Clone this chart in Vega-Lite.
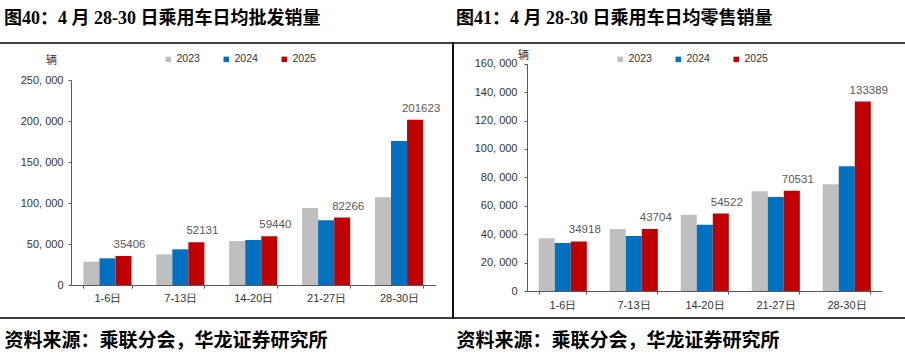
{
  "$schema": "https://vega.github.io/schema/vega-lite/v6.json",
  "autosize": {"type": "pad"},
  "padding": {"left": -3, "top": 9, "right": 0, "bottom": 0},
  "background": "white",
  "spacing": 0,
  "bounds": "flush",
  "config": {
    "view": {"stroke": "#000000", "strokeWidth": 1.5},
    "font": "Liberation Sans",
    "axis": {"labelFont": "Liberation Sans", "labelColor": "#333333", "domainColor": "#595959", "tickColor": "#595959", "grid": false, "tickSize": 3, "titleFont": "Noto Sans CJK SC"},
    "title": {"font": "Liberation Serif, Noto Sans CJK SC", "fontWeight": "bold", "fontSize": 18, "color": "#000000", "anchor": "start", "frame": "group"}
  },
  "datasets": {
    "wholesale": [
      {"period": "1-6日", "year": "2023", "value": 28400},
      {"period": "1-6日", "year": "2024", "value": 32500},
      {"period": "1-6日", "year": "2025", "value": 35406},
      {"period": "7-13日", "year": "2023", "value": 37400},
      {"period": "7-13日", "year": "2024", "value": 43500},
      {"period": "7-13日", "year": "2025", "value": 52131},
      {"period": "14-20日", "year": "2023", "value": 53600},
      {"period": "14-20日", "year": "2024", "value": 54900},
      {"period": "14-20日", "year": "2025", "value": 59440},
      {"period": "21-27日", "year": "2023", "value": 93900},
      {"period": "21-27日", "year": "2024", "value": 78900},
      {"period": "21-27日", "year": "2025", "value": 82266},
      {"period": "28-30日", "year": "2023", "value": 106900},
      {"period": "28-30日", "year": "2024", "value": 175600},
      {"period": "28-30日", "year": "2025", "value": 201623}
    ],
    "retail": [
      {"period": "1-6日", "year": "2023", "value": 37100},
      {"period": "1-6日", "year": "2024", "value": 33800},
      {"period": "1-6日", "year": "2025", "value": 34918},
      {"period": "7-13日", "year": "2023", "value": 43600},
      {"period": "7-13日", "year": "2024", "value": 38700},
      {"period": "7-13日", "year": "2025", "value": 43704},
      {"period": "14-20日", "year": "2023", "value": 53700},
      {"period": "14-20日", "year": "2024", "value": 46700},
      {"period": "14-20日", "year": "2025", "value": 54522},
      {"period": "21-27日", "year": "2023", "value": 70200},
      {"period": "21-27日", "year": "2024", "value": 66200},
      {"period": "21-27日", "year": "2025", "value": 70531},
      {"period": "28-30日", "year": "2023", "value": 75100},
      {"period": "28-30日", "year": "2024", "value": 87800},
      {"period": "28-30日", "year": "2025", "value": 133389}
    ]
  },
  "hconcat": [
    {
      "width": 455,
      "height": 275,
      "title": {"text": "图40：4 月 28-30 日乘用车日均批发销量", "offset": 15, "dx": 6},
      "data": {"name": "wholesale"},
      "encoding": {
        "x": {
          "field": "period", "type": "nominal",
          "sort": ["1-6日", "7-13日", "14-20日", "21-27日", "28-30日"],
          "scale": {"range": [73, 437.5], "paddingInner": 0.34, "paddingOuter": 0.17},
          "axis": {
            "orient": "bottom", "offset": -33, "labelAngle": 0, "labelFontSize": 11, "labelPadding": 4,
            "tickBand": "extent",
            "title": "资料来源：乘联分会，华龙证券研究所",
            "titleX": 6, "titleY": 55.5, "titleAlign": "left", "titleBaseline": "middle",
            "titleFontSize": 19, "titleFontWeight": "bold", "titleColor": "#000000"
          }
        },
        "xOffset": {"field": "year", "type": "nominal", "sort": ["2023", "2024", "2025"]},
        "y": {
          "field": "value", "type": "quantitative",
          "scale": {"domain": [0, 250000], "range": [242, 37], "nice": false},
          "axis": {
            "orient": "left", "offset": -73,
            "values": [0, 50000, 100000, 150000, 200000, 250000],
            "labelExpr": "replace(format(datum.value, ','), ',', ', ')",
            "labelFontSize": 11, "labelPadding": 5,
            "title": "辆", "titleAngle": 0, "titleX": -20, "titleY": 17,
            "titleAlign": "center", "titleBaseline": "middle",
            "titleFontSize": 11, "titleFontWeight": "normal", "titleColor": "#333333"
          }
        }
      },
      "layer": [
        {
          "mark": {"type": "bar"},
          "encoding": {
            "color": {
              "field": "year", "type": "nominal",
              "scale": {"domain": ["2023", "2024", "2025"], "range": ["#BFBFBF", "#0070C0", "#C00000"]},
              "legend": {
                "orient": "none", "legendX": 165, "legendY": 11, "direction": "horizontal",
                "title": null, "symbolType": "square", "symbolSize": 30, "symbolStrokeWidth": 0,
                "labelFontSize": 10.5, "labelColor": "#333333", "labelOffset": 3, "columnPadding": 21
              }
            }
          }
        },
        {
          "transform": [{"filter": "datum.year == '2025'"}],
          "mark": {"type": "text", "dy": -8, "dx": 6, "baseline": "alphabetic", "fontSize": 11.5, "color": "#595959"},
          "encoding": {"text": {"field": "value", "type": "quantitative", "format": "d"}}
        }
      ]
    },
    {
      "width": 458,
      "height": 275,
      "title": {"text": "图41：4 月 28-30 日乘用车日均零售销量", "offset": 15, "dx": 3},
      "data": {"name": "retail"},
      "encoding": {
        "x": {
          "field": "period", "type": "nominal",
          "sort": ["1-6日", "7-13日", "14-20日", "21-27日", "28-30日"],
          "scale": {"range": [74, 429], "paddingInner": 0.33, "paddingOuter": 0.165},
          "axis": {
            "orient": "bottom", "offset": -27, "labelAngle": 0, "labelFontSize": 11, "labelPadding": 5,
            "tickBand": "extent",
            "title": "资料来源：乘联分会，华龙证券研究所",
            "titleX": 3, "titleY": 49.5, "titleAlign": "left", "titleBaseline": "middle",
            "titleFontSize": 19, "titleFontWeight": "bold", "titleColor": "#000000"
          }
        },
        "xOffset": {"field": "year", "type": "nominal", "sort": ["2023", "2024", "2025"]},
        "y": {
          "field": "value", "type": "quantitative",
          "scale": {"domain": [0, 160000], "range": [248, 20.7], "nice": false},
          "axis": {
            "orient": "left", "offset": -74,
            "values": [0, 20000, 40000, 60000, 80000, 100000, 120000, 140000, 160000],
            "labelExpr": "replace(format(datum.value, ','), ',', ', ')",
            "labelFontSize": 11, "labelPadding": 7,
            "title": "辆", "titleAngle": 0, "titleX": -4, "titleY": 12.5,
            "titleAlign": "center", "titleBaseline": "middle",
            "titleFontSize": 11, "titleFontWeight": "normal", "titleColor": "#333333"
          }
        }
      },
      "layer": [
        {
          "mark": {"type": "bar"},
          "encoding": {
            "color": {
              "field": "year", "type": "nominal",
              "scale": {"domain": ["2023", "2024", "2025"], "range": ["#BFBFBF", "#0070C0", "#C00000"]},
              "legend": {
                "orient": "none", "legendX": 162, "legendY": 11, "direction": "horizontal",
                "title": null, "symbolType": "square", "symbolSize": 30, "symbolStrokeWidth": 0,
                "labelFontSize": 10.5, "labelColor": "#333333", "labelOffset": 3, "columnPadding": 21
              }
            }
          }
        },
        {
          "transform": [{"filter": "datum.year == '2025'"}],
          "mark": {"type": "text", "dy": -8, "dx": 6, "baseline": "alphabetic", "fontSize": 11.5, "color": "#595959"},
          "encoding": {"text": {"field": "value", "type": "quantitative", "format": "d"}}
        }
      ]
    }
  ],
  "resolve": {"scale": {"color": "independent"}}
}
